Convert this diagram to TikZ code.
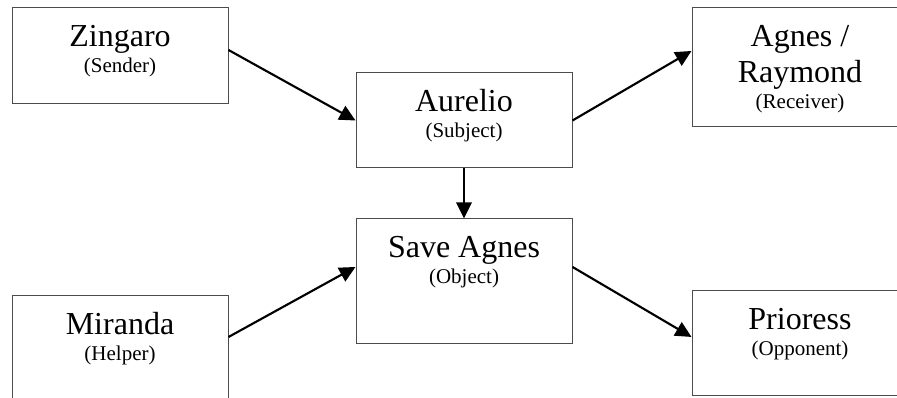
\documentclass[tikz,border=0pt]{standalone}
\usepackage{fontspec}
\setmainfont{Liberation Serif}
\usetikzlibrary{arrows.meta}
\tikzset{
  actor/.style={draw=black!70, line width=0.75pt, minimum width=162pt, inner sep=0pt},
  mainlbl/.style={font=\fontsize{24}{27}\selectfont, anchor=base, inner sep=0pt},
  rolelbl/.style={font=\fontsize{15.75}{19}\selectfont, anchor=base, inner sep=0pt},
  link/.style={line width=1.6pt, -{Triangle[length=12pt,width=11.5pt]}}
}
\begin{document}
\begin{tikzpicture}[x=0.75pt,y=-0.75pt]
        \useasboundingbox (0,0) rectangle (897,398);
        \clip (0,0) rectangle (897,398);

        % Draw the boxes
        \node[actor, minimum height=72pt]    (zin) at (120,56)    {};
        \node[actor, minimum height=71.25pt] (aur) at (464,120.5) {};
        \node[actor, minimum height=93.75pt] (sav) at (464,281.5) {};
        \node[actor, minimum height=89.25pt] (agn) at (800,67.5)  {};
        \node[actor, minimum height=82.5pt]  (mir) at (120,351)   {};
        \node[actor, minimum height=78.75pt] (pri) at (800,343.5) {};

        % Add the names and roles
        \node[mainlbl] (zinT) at ([yshift=-29pt]zin.north) {Zingaro};
        \node[rolelbl] (zinR) at ([yshift=-20pt]zinT.base) {(Sender)};
        \node[mainlbl] (aurT) at ([yshift=-29pt]aur.north) {Aurelio};
        \node[rolelbl] (aurR) at ([yshift=-20pt]aurT.base) {(Subject)};
        \node[mainlbl] (savT) at ([yshift=-29pt]sav.north) {Save Agnes};
        \node[rolelbl] (savR) at ([yshift=-20pt]savT.base) {(Object)};
        \node[mainlbl] (agnT) at ([yshift=-29pt]agn.north) {Agnes /};
        \node[mainlbl] (agnU) at ([yshift=-27pt]agnT.base) {Raymond};
        \node[rolelbl] (agnR) at ([yshift=-20pt]agnU.base) {(Receiver)};
        \node[mainlbl] (mirT) at ([yshift=-29pt]mir.north) {Miranda};
        \node[rolelbl] (mirR) at ([yshift=-20pt]mirT.base) {(Helper)};
        \node[mainlbl] (priT) at ([yshift=-29pt]pri.north) {Prioress};
        \node[rolelbl] (priR) at ([yshift=-20pt]priT.base) {(Opponent)};

        % Draw the arrows
        \draw[link] ([yshift=4.5pt]zin.east) -- (aur.west);
        \draw[link] (aur.east) -- ([yshift=12.4pt]agn.west);
        \draw[link] (aur.south) -- (sav.north);
        \draw[link] ([yshift=10.5pt]mir.east) -- ([yshift=10.9pt]sav.west);
        \draw[link] ([yshift=10.9pt]sav.east) -- ([yshift=4.9pt]pri.west);
    \end{tikzpicture}
\end{document}
